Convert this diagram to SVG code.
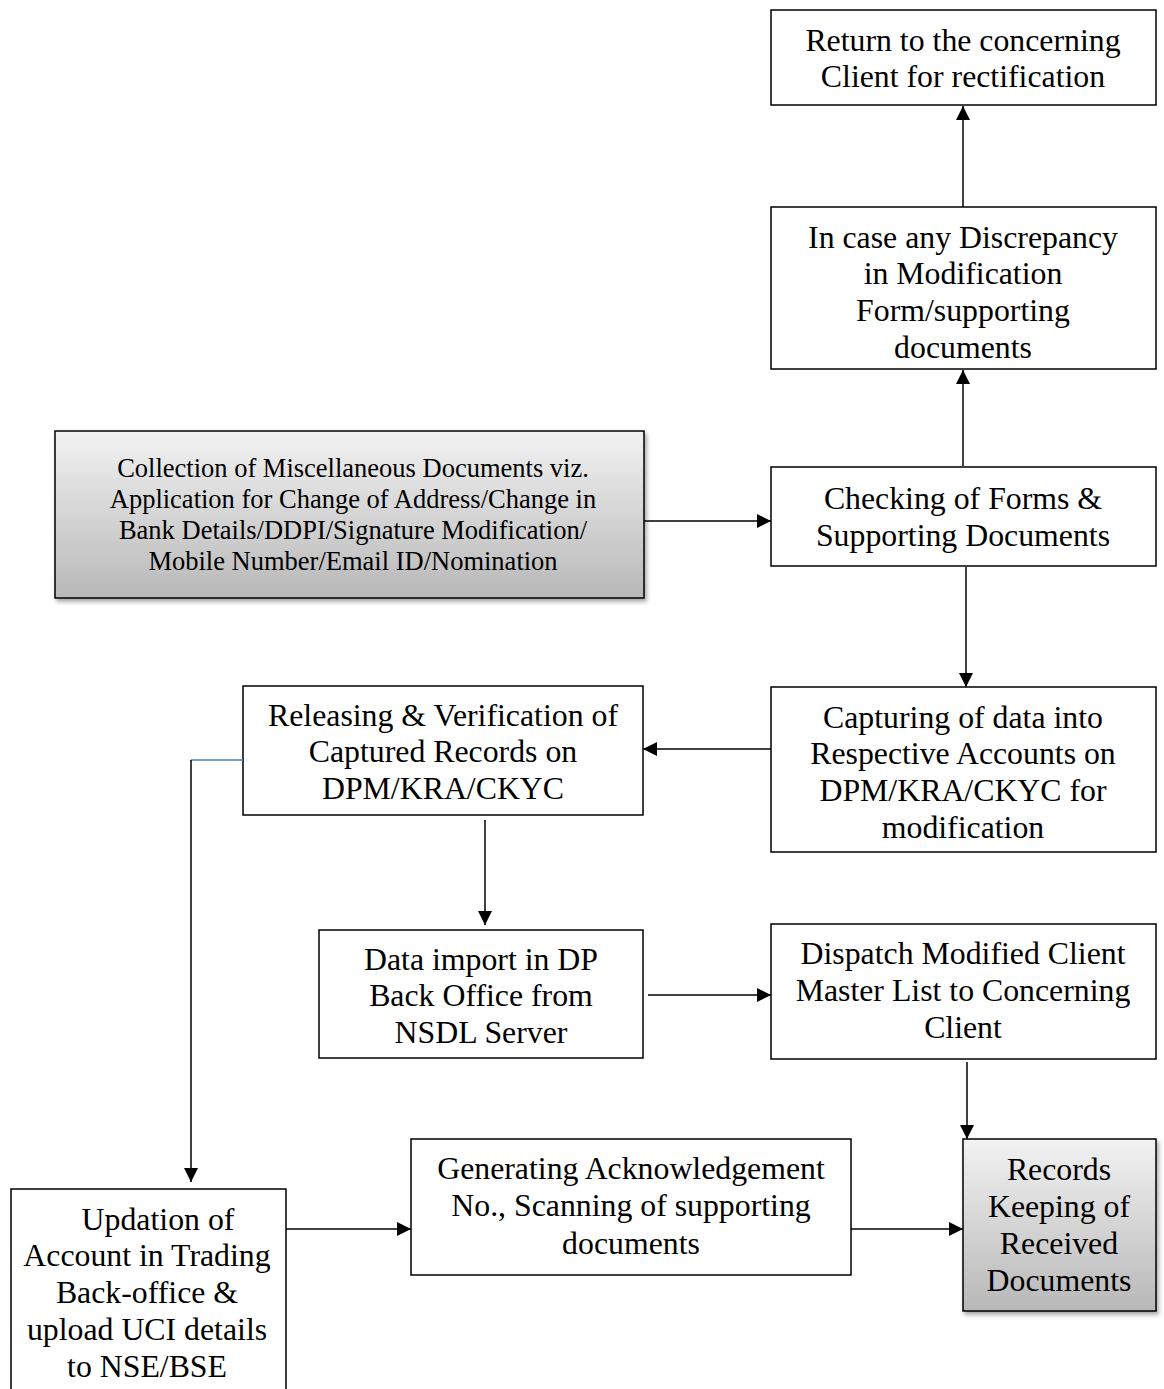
<svg xmlns="http://www.w3.org/2000/svg" width="1164" height="1389" viewBox="0 0 1164 1389">
<style>
.box{fill:#fff;stroke:#000;stroke-width:1.5}
.gbox{fill:url(#g);stroke:#000;stroke-width:1.5}
.t{font-family:"Liberation Serif","Times New Roman",serif;font-size:31.8px;fill:#000;text-anchor:middle;dominant-baseline:central}
.ts{font-family:"Liberation Serif","Times New Roman",serif;font-size:26.5px;fill:#000;text-anchor:middle;dominant-baseline:central}
.c{stroke:#000;stroke-width:1.5;fill:none}
</style>
<defs>
<linearGradient id="g" x1="0" y1="0" x2="0" y2="1"><stop offset="0" stop-color="#f2f2f2"/><stop offset="1" stop-color="#b8b8b8"/></linearGradient>
<marker id="a" viewBox="0 0 10 10" refX="10" refY="5" markerWidth="14" markerHeight="14" markerUnits="userSpaceOnUse" orient="auto"><path d="M0,0 L10,5 L0,10 z" fill="#000"/></marker>
<filter id="sh" x="-5%" y="-5%" width="115%" height="120%"><feDropShadow dx="2" dy="3" stdDeviation="2" flood-color="#000" flood-opacity="0.35"/></filter>
</defs>
<g id="n-return"><rect class="box" x="771" y="10" width="385" height="95"/><text class="t" x="963" y="40">Return to the concerning</text><text class="t" x="963" y="76">Client for rectification</text></g>
<g id="n-discrepancy"><rect class="box" x="771" y="207" width="385" height="162"/><text class="t" x="963" y="237">In case any Discrepancy</text><text class="t" x="963" y="273">in Modification</text><text class="t" x="963" y="310">Form/supporting</text><text class="t" x="963" y="347">documents</text></g>
<g id="n-collection"><rect class="gbox" filter="url(#sh)" x="55" y="431" width="589" height="167"/><text class="ts" x="353" y="468">Collection of Miscellaneous Documents viz.</text><text class="ts" x="353" y="499">Application for Change of Address/Change in</text><text class="ts" x="353" y="530">Bank Details/DDPI/Signature Modification/</text><text class="ts" x="353" y="561">Mobile Number/Email ID/Nomination</text></g>
<g id="n-checking"><rect class="box" x="771" y="467" width="385" height="99"/><text class="t" x="963" y="498">Checking of Forms &amp;</text><text class="t" x="963" y="535">Supporting Documents</text></g>
<g id="n-capturing"><rect class="box" x="771" y="687" width="385" height="165"/><text class="t" x="963" y="717">Capturing of data into</text><text class="t" x="963" y="753">Respective Accounts on</text><text class="t" x="963" y="790">DPM/KRA/CKYC for</text><text class="t" x="963" y="827">modification</text></g>
<g id="n-releasing"><rect class="box" x="243" y="686" width="400" height="129"/><text class="t" x="443" y="715">Releasing &amp; Verification of</text><text class="t" x="443" y="751">Captured Records on</text><text class="t" x="443" y="788">DPM/KRA/CKYC</text></g>
<g id="n-import"><rect class="box" x="319" y="930" width="324" height="128"/><text class="t" x="481" y="959">Data import in DP</text><text class="t" x="481" y="995">Back Office from</text><text class="t" x="481" y="1032">NSDL Server</text></g>
<g id="n-dispatch"><rect class="box" x="771" y="924" width="385" height="135"/><text class="t" x="963" y="953">Dispatch Modified Client</text><text class="t" x="963" y="990">Master List to Concerning</text><text class="t" x="963" y="1027">Client</text></g>
<g id="n-updation"><rect class="box" x="11" y="1189" width="275" height="210"/><text class="t" x="158" y="1219">Updation of</text><text class="t" x="147" y="1255">Account in Trading</text><text class="t" x="147" y="1292">Back-office &amp;</text><text class="t" x="147" y="1329">upload UCI details</text><text class="t" x="147" y="1366">to NSE/BSE</text></g>
<g id="n-generating"><rect class="box" x="411" y="1139" width="440" height="136"/><text class="t" x="631" y="1168">Generating Acknowledgement</text><text class="t" x="631" y="1205">No., Scanning of supporting</text><text class="t" x="631" y="1243">documents</text></g>
<g id="n-records"><rect class="gbox" filter="url(#sh)" x="963" y="1139" width="193" height="172"/><text class="t" x="1059" y="1169">Records</text><text class="t" x="1059" y="1206">Keeping of</text><text class="t" x="1059" y="1243">Received</text><text class="t" x="1059" y="1280">Documents</text></g>
<g id="connectors">
<line class="c" x1="963" y1="207" x2="963" y2="106" marker-end="url(#a)"/>
<line class="c" x1="963" y1="466" x2="963" y2="370" marker-end="url(#a)"/>
<line class="c" x1="644" y1="521" x2="771" y2="521" marker-end="url(#a)"/>
<line class="c" x1="966" y1="567" x2="966" y2="687" marker-end="url(#a)"/>
<line class="c" x1="771" y1="749" x2="643" y2="749" marker-end="url(#a)"/>
<line class="c" x1="485" y1="820" x2="485" y2="925" marker-end="url(#a)"/>
<line class="c" x1="648" y1="995" x2="771" y2="995" marker-end="url(#a)"/>
<line class="c" x1="967" y1="1062" x2="967" y2="1139" marker-end="url(#a)"/>
<line x1="243" y1="760" x2="191" y2="760" stroke="#4a7ebb" stroke-width="1.5"/>
<line class="c" x1="191" y1="760" x2="191" y2="1182" marker-end="url(#a)"/>
<line class="c" x1="286" y1="1229" x2="411" y2="1229" marker-end="url(#a)"/>
<line class="c" x1="851" y1="1229" x2="963" y2="1229" marker-end="url(#a)"/>
</g>
</svg>
